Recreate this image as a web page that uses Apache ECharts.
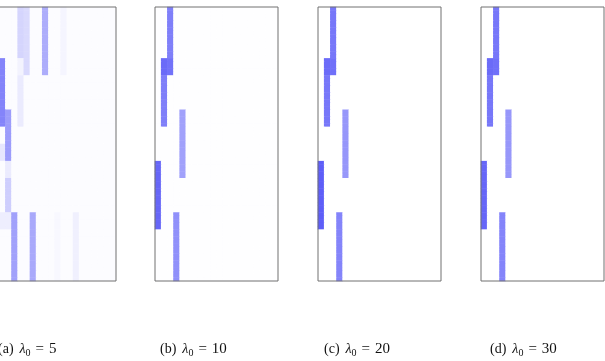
<!DOCTYPE html>
<html>
<head>
<meta charset="utf-8">
<script src="https://cdn.jsdelivr.net/npm/echarts@6/dist/echarts.min.js"></script>
<style>
  html, body { margin: 0; padding: 0; background: #fff; }
  #chart { width: 605px; height: 361px; }
</style>
</head>
<body>
<div id="chart"></div>
<script>
const nCols = 20;
const nRows = 80;
const panelTags = ['(a)', '(b)', '(c)', '(d)'];
const lambdas = [5, 10, 20, 30];
// faint level of the whole matrix
const baseLevel = [0.012, 0.003, 0.0, 0.002];

// [column, first row, last row, value]
const segA = [
  [1, 15, 34, 0.5], [1, 40, 44, 0.1], [1, 60, 64, 0.07],
  [2, 30, 44, 0.4], [2, 45, 49, 0.08], [2, 50, 59, 0.2], [2, 60, 64, 0.07],
  [3, 60, 79, 0.38],
  [4, 0, 14, 0.17], [4, 15, 19, 0.05], [4, 20, 34, 0.08],
  [5, 0, 19, 0.15],
  [6, 60, 79, 0.35],
  [8, 0, 19, 0.33],
  [10, 60, 79, 0.03],
  [11, 0, 19, 0.04],
  [13, 60, 79, 0.06]
];
const segB = [
  [2, 0, 14, 0.52], [2, 15, 19, 0.57], [1, 15, 19, 0.6], [1, 20, 34, 0.52],
  [4, 30, 49, 0.38], [0, 45, 64, 0.62], [3, 60, 79, 0.45]
];
const segC = [
  [2, 0, 14, 0.55], [2, 15, 19, 0.58], [1, 15, 19, 0.6], [1, 20, 34, 0.55],
  [4, 30, 49, 0.42], [0, 45, 64, 0.65], [3, 60, 79, 0.5]
];
const segD = [
  [2, 0, 14, 0.55], [2, 15, 19, 0.58], [1, 15, 19, 0.6], [1, 20, 34, 0.55],
  [4, 30, 49, 0.42], [0, 45, 64, 0.62], [3, 60, 79, 0.5]
];
const segments = [segA, segB, segC, segD];

const buildCells = function(segs, base) {
  const m = [];
  for (let r = 0; r < nRows; r++) {
    m.push(new Array(nCols).fill(base));
  }
  segs.forEach(([c, r0, r1, v]) => {
    for (let r = r0; r <= r1; r++) m[r][c] = v;
  });
  const out = [];
  m.forEach((row, r) => row.forEach((v, c) => out.push([c, r, v])));
  return out;
};

const gridLefts = [-7, 155, 318, 481];
const captionLefts = [-2, 160, 324, 490];
const colNames = Array.from({ length: nCols }, (_, i) => i);
const rowNames = Array.from({ length: nRows }, (_, i) => i);

const hidden = {
  axisLine: { show: false },
  axisTick: { show: false },
  axisLabel: { show: false },
  splitLine: { show: false }
};

const capFont = { fontFamily: 'Liberation Serif', fontWeight: 'normal', color: '#111' };

const myChart = echarts.init(document.querySelector('#chart'));

const option = {
  animation: false,
  title: panelTags.map((tag, i) => ({
    text: `{n|${tag}}{l|λ}{s|0}{e|=}{d|${lambdas[i]}}`,
    left: captionLefts[i],
    top: 341,
    padding: 0,
    textStyle: {
      fontWeight: 'normal',
      rich: {
        n: { ...capFont, fontSize: 14 },
        l: { ...capFont, fontStyle: 'italic', fontSize: 14, padding: [0, 0, 0, 6] },
        s: { ...capFont, fontSize: 10, padding: [7, 0, 0, 0] },
        e: { ...capFont, fontSize: 15, padding: [0, 5, 0, 5] },
        d: { ...capFont, fontSize: 15 }
      }
    }
  })),
  grid: gridLefts.map(l => ({
    left: l,
    top: 7,
    width: 123,
    height: 274,
    outerBoundsMode: 'none',
    show: true,
    z: 5,
    borderColor: '#707070',
    borderWidth: 1,
    backgroundColor: 'transparent'
  })),
  xAxis: gridLefts.map((_, i) => ({
    type: 'category',
    data: colNames,
    gridIndex: i,
    ...hidden
  })),
  yAxis: gridLefts.map((_, i) => ({
    type: 'category',
    data: rowNames,
    gridIndex: i,
    inverse: true,
    ...hidden
  })),
  visualMap: {
    type: 'continuous',
    show: false,
    min: 0,
    max: 1,
    seriesIndex: [0, 1, 2, 3],
    inRange: { color: ['#ffffff', '#0808f4'] }
  },
  series: segments.map((segs, i) => ({
    type: 'heatmap',
    xAxisIndex: i,
    yAxisIndex: i,
    data: buildCells(segs, baseLevel[i]),
    progressive: 0,
    itemStyle: { borderWidth: 0 },
    emphasis: { disabled: true }
  }))
};

myChart.setOption(option);
</script>
</body>
</html>
